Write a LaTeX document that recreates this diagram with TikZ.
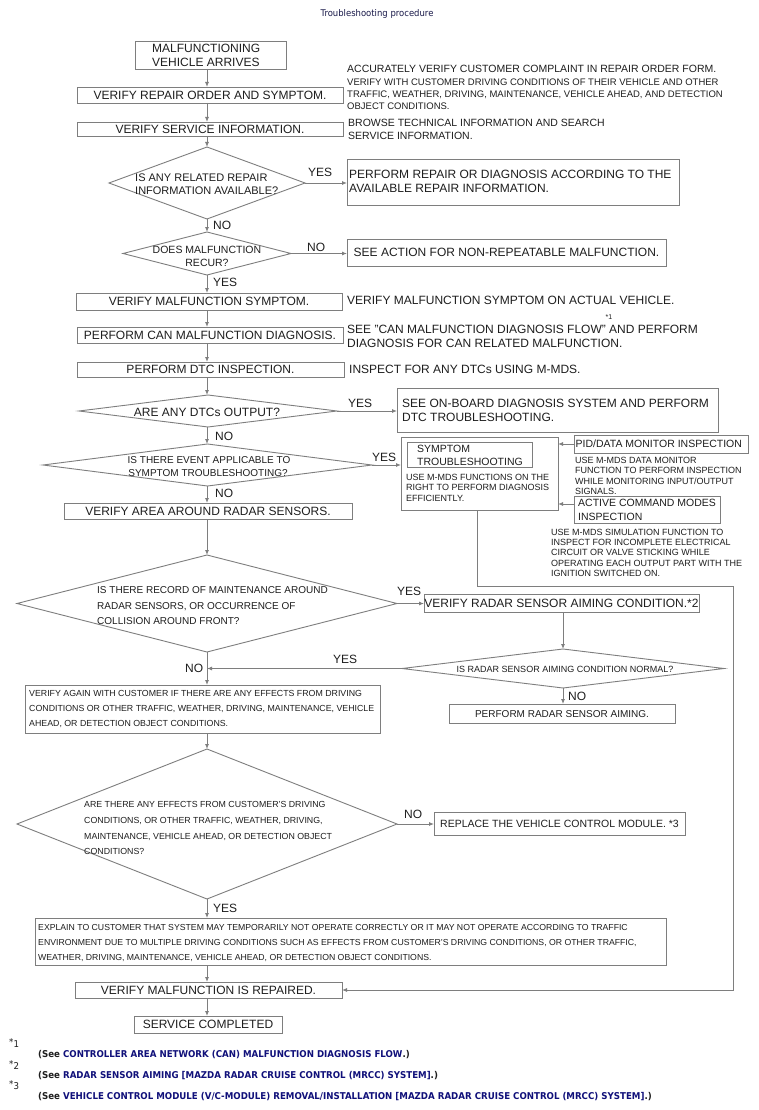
\documentclass[tikz,border=0pt]{standalone}
\usepackage{fontspec}
\setmainfont{Liberation Sans}
\newfontfamily\tahoma[FakeStretch=0.92]{DejaVu Sans}
\usetikzlibrary{arrows.meta,shapes.geometric}
\definecolor{lc}{HTML}{7E7E7E}
\definecolor{tc}{HTML}{1E1E1E}
\definecolor{nv}{HTML}{10107A}
\definecolor{ttl}{HTML}{1A1A4A}
\tikzset{
  box/.style={rectangle, draw=lc, line width=0.9pt, inner sep=0pt, outer sep=0pt, text=tc},
  dia/.style={diamond, draw=lc, line width=0.9pt, inner sep=0pt, outer sep=0pt},
  wire/.style={draw=lc, line width=0.9pt},
  arr/.style={wire, -{Latex[length=5pt,width=4pt]}},
  fs/.style 2 args={font=\fontsize{#1}{#1}\selectfont, text height=#2pt, text depth=0pt, inner sep=0pt, text=tc},
  lt/.style={anchor=west},
  fnt/.style={anchor=base west, inner sep=0pt, text=tc, font=\tahoma\bfseries\fontsize{9.4}{10}\selectfont},
  fnm/.style={anchor=base west, inner sep=0pt, text=tc, font=\tahoma\fontsize{9.4}{10}\selectfont},
}
\begin{document}
\begin{tikzpicture}[x=1pt,y=-1pt]
\useasboundingbox (0,0) rectangle (758,1110);
\fill[white] (0,0) rectangle (758,1110);
\coordinate (mx) at (207,0);
\coordinate (ay) at (0,504);
\coordinate (c1) at (477,586);
\coordinate (c2) at (733,586);
\coordinate (c3) at (733,990);

% title
\node[anchor=base, inner sep=0pt, text=ttl, font=\tahoma\fontsize{9.2}{11}\selectfont] (title) at (377,17) {Troubleshooting procedure};

% main column boxes
\node[box, minimum width=151, minimum height=28] (b1) at (210.5,55) {};
\node[fs={12}{8.6},lt] (b1a) at (152,48) {MALFUNCTIONING};
\node[fs={12}{8.6},lt] (b1b) at (152,62) {VEHICLE ARRIVES};
\node[box, fs={12}{8.6}, minimum width=266, minimum height=16] (b2) at (210,95) {VERIFY REPAIR ORDER AND SYMPTOM.};
\node[box, fs={12}{8.6}, minimum width=266, minimum height=14] (b3) at (210,129) {VERIFY SERVICE INFORMATION.};

\node[fs={10.5}{7.5},lt] (r1a) at (347,69) {ACCURATELY VERIFY CUSTOMER COMPLAINT IN REPAIR ORDER FORM.};
\node[fs={9.5}{6.8},lt] (r1b) at (347,82) {VERIFY WITH CUSTOMER DRIVING CONDITIONS OF THEIR VEHICLE AND OTHER};
\node[fs={9.5}{6.8},lt] (r1c) at (347,94) {TRAFFIC, WEATHER, DRIVING, MAINTENANCE, VEHICLE AHEAD, AND DETECTION};
\node[fs={9.5}{6.8},lt] (r1d) at (347,106) {OBJECT CONDITIONS.};
\node[fs={10.5}{7.5},lt] (r2a) at (348,123) {BROWSE TECHNICAL INFORMATION AND SEARCH};
\node[fs={10.5}{7.5},lt] (r2b) at (348,136) {SERVICE INFORMATION.};

% D1
\node[dia, minimum width=196, minimum height=72] (d1) at (207,183) {};
\node[fs={11}{7.9},lt] (d1a) at (135,178) {IS ANY RELATED REPAIR};
\node[fs={11}{7.9},lt] (d1b) at (135,191) {INFORMATION AVAILABLE?};
\node[fs={12}{8.6},lt] (y1) at (308,172) {YES};
\node[box, minimum width=332, minimum height=46] (p1) at (513,182) {};
\node[fs={12}{8.6},lt] (p1a) at (349,174) {PERFORM REPAIR OR DIAGNOSIS ACCORDING TO THE};
\node[fs={12}{8.6},lt] (p1b) at (349,188) {AVAILABLE REPAIR INFORMATION.};
\node[fs={12}{8.6},lt] (n1) at (213,225) {NO};

% D2
\node[dia, minimum width=168, minimum height=43] (d2) at (207,253.5) {};
\node[fs={10.5}{7.5}] (d2a) at (207,250) {DOES MALFUNCTION};
\node[fs={10.5}{7.5}] (d2b) at (207,263) {RECUR?};
\node[fs={12}{8.6},lt] (n2) at (307,247) {NO};
\node[box, fs={12}{8.6}, minimum width=319, minimum height=27] (see) at (506.5,252.5) {SEE ACTION FOR NON-REPEATABLE MALFUNCTION.};
\node[fs={12}{8.6},lt] (y2) at (213,282) {YES};

\node[box, fs={12}{8.6}, minimum width=266, minimum height=17] (b4) at (209,301.5) {VERIFY MALFUNCTION SYMPTOM.};
\node[fs={12}{8.6},lt] (r4) at (347,300) {VERIFY MALFUNCTION SYMPTOM ON ACTUAL VEHICLE.};
\node[box, fs={12}{8.6}, minimum width=266, minimum height=16] (b5) at (210,335) {PERFORM CAN MALFUNCTION DIAGNOSIS.};
\node[fs={12}{8.6},lt] (r5a) at (347,329) {SEE "CAN MALFUNCTION DIAGNOSIS FLOW" AND PERFORM};
\node[fs={12}{8.6},lt] (r5b) at (347,343) {DIAGNOSIS FOR CAN RELATED MALFUNCTION.};
\node[fs={7}{5}] (s1) at (609,317) {*1};
\node[box, fs={12}{8.6}, minimum width=267, minimum height=15] (b6) at (210.5,369.5) {PERFORM DTC INSPECTION.};
\node[fs={12}{8.6},lt] (r6) at (349,369) {INSPECT FOR ANY DTCs USING M-MDS.};

% D3
\node[dia, minimum width=258, minimum height=32] (d3) at (208,411) {};
\node[fs={12}{8.6}] (d3a) at (207,412) {ARE ANY DTCs OUTPUT?};
\node[fs={12}{8.6},lt] (y3) at (348,403) {YES};
\node[box, minimum width=321, minimum height=44] (obd) at (557.5,410) {};
\node[fs={12}{8.6},lt] (obda) at (402,403) {SEE ON-BOARD DIAGNOSIS SYSTEM AND PERFORM};
\node[fs={12}{8.6},lt] (obdb) at (402,417) {DTC TROUBLESHOOTING.};
\node[fs={12}{8.6},lt] (n3) at (215,436) {NO};

% D4
\node[dia, minimum width=329, minimum height=42] (d4) at (207.5,465) {};
\node[fs={10}{7.2}] (d4a) at (209,460) {IS THERE EVENT APPLICABLE TO};
\node[fs={10}{7.2}] (d4b) at (208,473) {SYMPTOM TROUBLESHOOTING?};
\node[fs={12}{8.6},lt] (y4) at (372,457) {YES};
\node[fs={12}{8.6},lt] (n4) at (215,493) {NO};
\node[box, fs={12}{8.6}, minimum width=288, minimum height=16] (b7) at (208,511) {VERIFY AREA AROUND RADAR SENSORS.};

% symptom troubleshooting group
\node[box, minimum width=157, minimum height=73] (st) at (479.5,473.5) {};
\node[box, minimum width=125, minimum height=25] (sti) at (469.5,454.5) {};
\node[fs={10.5}{7.5},lt] (stia) at (417,449) {SYMPTOM};
\node[fs={10.5}{7.5},lt] (stib) at (417,462) {TROUBLESHOOTING};
\node[fs={9}{6.45},lt] (sta) at (406,477) {USE M-MDS FUNCTIONS ON THE};
\node[fs={9}{6.45},lt] (stb) at (406,487.5) {RIGHT TO PERFORM DIAGNOSIS};
\node[fs={9}{6.45},lt] (stc) at (406,498) {EFFICIENTLY.};
\node[box, minimum width=174, minimum height=18] (pid) at (661,444) {};
\node[fs={10.5}{7.5},lt] (pida) at (575.5,444) {PID/DATA MONITOR INSPECTION};
\node[fs={9}{6.45},lt] (pd1) at (575,460) {USE M-MDS DATA MONITOR};
\node[fs={9}{6.45},lt] (pd2) at (575,470.5) {FUNCTION TO PERFORM INSPECTION};
\node[fs={9}{6.45},lt] (pd3) at (575,481) {WHILE MONITORING INPUT/OUTPUT};
\node[fs={9}{6.45},lt] (pd4) at (575,491) {SIGNALS.};
\node[box, minimum width=146, minimum height=27] (act) at (647,509.5) {};
\node[fs={10.5}{7.5},lt] (acta) at (578,503) {ACTIVE COMMAND MODES};
\node[fs={10.5}{7.5},lt] (actb) at (578,517) {INSPECTION};
\node[fs={9}{6.45},lt] (ad1) at (551,532) {USE M-MDS SIMULATION FUNCTION TO};
\node[fs={9}{6.45},lt] (ad2) at (551,542.5) {INSPECT FOR INCOMPLETE ELECTRICAL};
\node[fs={9}{6.45},lt] (ad3) at (551,552.5) {CIRCUIT OR VALVE STICKING WHILE};
\node[fs={9}{6.45},lt] (ad4) at (551,563) {OPERATING EACH OUTPUT PART WITH THE};
\node[fs={9}{6.45},lt] (ad5) at (551,573) {IGNITION SWITCHED ON.};

% D5
\node[dia, minimum width=380, minimum height=97] (d5) at (207,603.5) {};
\node[fs={10}{7.2},lt] (d5a) at (97,590) {IS THERE RECORD OF MAINTENANCE AROUND};
\node[fs={10}{7.2},lt] (d5b) at (97,606) {RADAR SENSORS, OR OCCURRENCE OF};
\node[fs={10}{7.2},lt] (d5c) at (97,621) {COLLISION AROUND FRONT?};
\node[fs={12}{8.6},lt] (y5) at (397,591) {YES};
\node[box, fs={12}{8.6}, minimum width=275, minimum height=18] (vrs) at (561.5,603) {VERIFY RADAR SENSOR AIMING CONDITION.*2};

% D6
\node[dia, minimum width=322, minimum height=39] (d6) at (563,668.5) {};
\node[fs={9}{6.45}] (d6a) at (565,669) {IS RADAR SENSOR AIMING CONDITION NORMAL?};
\node[fs={12}{8.6},lt] (y6) at (333,659) {YES};
\node[fs={12}{8.6},lt] (n5) at (185,668) {NO};
\node[fs={12}{8.6},lt] (n6) at (568,696) {NO};
\node[box, fs={10}{7.2}, minimum width=226, minimum height=19] (rsa) at (562,713.5) {PERFORM RADAR SENSOR AIMING.};

% B8
\node[box, minimum width=355, minimum height=48] (b8) at (202.5,709) {};
\node[fs={8.8}{6.3},lt] (b8a) at (29,693) {VERIFY AGAIN WITH CUSTOMER IF THERE ARE ANY EFFECTS FROM DRIVING};
\node[fs={8.8}{6.3},lt] (b8b) at (29,708) {CONDITIONS OR OTHER TRAFFIC, WEATHER, DRIVING, MAINTENANCE, VEHICLE};
\node[fs={8.8}{6.3},lt] (b8c) at (29,723) {AHEAD, OR DETECTION OBJECT CONDITIONS.};

% D7
\node[dia, minimum width=380, minimum height=150] (d7) at (207,824) {};
\node[fs={8.8}{6.3},lt] (d7a) at (84,804) {ARE THERE ANY EFFECTS FROM CUSTOMER'S DRIVING};
\node[fs={8.8}{6.3},lt] (d7b) at (84,820) {CONDITIONS, OR OTHER TRAFFIC, WEATHER, DRIVING,};
\node[fs={8.8}{6.3},lt] (d7c) at (84,836) {MAINTENANCE, VEHICLE AHEAD, OR DETECTION OBJECT};
\node[fs={8.8}{6.3},lt] (d7d) at (84,851) {CONDITIONS?};
\node[fs={12}{8.6},lt] (n7) at (404,814) {NO};
\node[box, fs={10.5}{7.5}, minimum width=251, minimum height=23] (rvc) at (559.5,823.5) {REPLACE THE VEHICLE CONTROL MODULE. *3};
\node[fs={12}{8.6},lt] (y7) at (213,908) {YES};

% EXP
\node[box, minimum width=631, minimum height=47] (exp) at (350.5,941.5) {};
\node[fs={8.7}{6.2},lt] (ea) at (38,927) {EXPLAIN TO CUSTOMER THAT SYSTEM MAY TEMPORARILY NOT OPERATE CORRECTLY OR IT MAY NOT OPERATE ACCORDING TO TRAFFIC};
\node[fs={8.7}{6.2},lt] (eb) at (38,942) {ENVIRONMENT DUE TO MULTIPLE DRIVING CONDITIONS SUCH AS EFFECTS FROM CUSTOMER'S DRIVING CONDITIONS, OR OTHER TRAFFIC,};
\node[fs={8.7}{6.2},lt] (ec) at (38,957) {WEATHER, DRIVING, MAINTENANCE, VEHICLE AHEAD, OR DETECTION OBJECT CONDITIONS.};

\node[box, fs={12}{8.6}, minimum width=267, minimum height=16] (vmr) at (208.5,990) {VERIFY MALFUNCTION IS REPAIRED.};
\node[box, fs={12}{8.6}, minimum width=148, minimum height=17] (sc) at (208,1024.5) {SERVICE COMPLETED};

% footnotes
\node[fnm] (m1) at (9,1047.5) {\raisebox{2pt}{*}1};
\node[fnt] (f1) at (38,1057.4) {(See \textcolor{nv}{CONTROLLER AREA NETWORK (CAN) MALFUNCTION DIAGNOSIS FLOW}.)};
\node[fnm] (m2) at (9,1069) {\raisebox{2pt}{*}2};
\node[fnt] (f2) at (38,1078.4) {(See \textcolor{nv}{RADAR SENSOR AIMING [MAZDA RADAR CRUISE CONTROL (MRCC) SYSTEM]}.)};
\node[fnm] (m3) at (9,1089.5) {\raisebox{2pt}{*}3};
\node[fnt] (f3) at (38,1099.4) {(See \textcolor{nv}{VEHICLE CONTROL MODULE (V/C-MODULE) REMOVAL/INSTALLATION [MAZDA RADAR CRUISE CONTROL (MRCC) SYSTEM]}.)};

% connectors
\draw[arr] (b1.south -| mx) -- (b2.north -| mx);
\draw[arr] (b2.south -| mx) -- (b3.north -| mx);
\draw[arr] (b3.south -| mx) -- (d1.north);
\draw[arr] (d1.east) -- (d1.east -| p1.west);
\draw[arr] (d1.south) -- (d2.north);
\draw[arr] (d2.east) -- (d2.east -| see.west);
\draw[arr] (d2.south) -- (b4.north -| mx);
\draw[arr] (b4.south -| mx) -- (b5.north -| mx);
\draw[arr] (b5.south -| mx) -- (b6.north -| mx);
\draw[arr] (b6.south -| mx) -- (d3.north -| mx);
\draw[arr] (d3.east) -- (d3.east -| obd.west);
\draw[arr] (d3.south -| mx) -- (d4.north -| mx);
\draw[arr] (d4.east) -- (d4.east -| st.west);
\draw[arr] (d4.south -| mx) -- (b7.north -| mx);
\draw[arr] (pid.west) -- (pid.west -| st.east);
\draw[arr] (act.west |- ay) -- (st.east |- ay);
\draw[arr] (st.south -| c1) -- (c1) -- (c2) -- (c3) -- (vmr.east);
\draw[arr] (b7.south -| mx) -- (d5.north);
\draw[arr] (d5.east) -- (d5.east -| vrs.west);
\draw[arr] (vrs.south -| d6.north) -- (d6.north);
\draw[arr] (d6.south) -- (d6.south |- rsa.north);
\draw[arr] (d6.west) -- (d6.west -| mx);
\draw[arr] (d5.south) -- (b8.north -| mx);
\draw[arr] (b8.south -| mx) -- (d7.north);
\draw[arr] (d7.east) -- (d7.east -| rvc.west);
\draw[arr] (d7.south) -- (exp.north -| mx);
\draw[arr] (exp.south -| mx) -- (vmr.north -| mx);
\draw[arr] (vmr.south -| mx) -- (sc.north -| mx);
\end{tikzpicture}
\end{document}
